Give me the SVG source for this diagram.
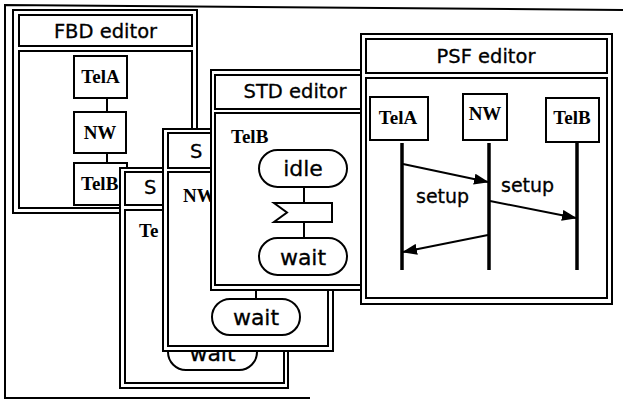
<svg xmlns="http://www.w3.org/2000/svg" width="623" height="400" viewBox="0 0 623 400">
<style>
.bg{fill:#fff}
.frame{fill:#fff;stroke:#000;stroke-width:2}
.box{fill:#fff;stroke:#000;stroke-width:2}
.title{font-family:"DejaVu Sans",sans-serif;font-size:19.5px;fill:#000;stroke:#000;stroke-width:0.3;text-anchor:middle}
.ser{font-family:"Liberation Serif",serif;font-size:19px;font-weight:bold;fill:#000}
.serc{font-family:"Liberation Serif",serif;font-size:19px;font-weight:bold;fill:#000;text-anchor:middle}
.state{font-family:"DejaVu Sans",sans-serif;font-size:22px;fill:#000;stroke:#000;stroke-width:0.3;text-anchor:middle}
.lbl{font-family:"DejaVu Sans",sans-serif;font-size:19px;fill:#000;stroke:#000;stroke-width:0.3}
.ln{stroke:#000;stroke-width:2;fill:none}
.life{stroke:#000;stroke-width:3.5;fill:none}
</style>
<defs>
<marker id="ah" markerUnits="userSpaceOnUse" markerWidth="15" markerHeight="11" refX="14" refY="5.5" orient="auto">
<path d="M0,0 L15,5.5 L0,11 z" fill="#000"/>
</marker>
</defs>
<rect class="bg" x="0" y="0" width="623" height="400"/>
<g id="outer-frame">
<path class="ln" d="M623,10 L5,5 L5,398 L310,398"/>
</g>
<g id="fbd-editor">
<rect class="frame" x="13" y="10" width="184" height="203"/>
<rect class="box" x="19" y="15" width="173" height="31"/>
<text class="title" x="105.5" y="38">FBD editor</text>
<rect class="box" x="19" y="51" width="173" height="157"/>
<g id="fbd-tela"><rect class="box" x="74" y="56" width="53" height="42"/><text class="serc" x="100.5" y="83">TelA</text></g>
<g id="fbd-nw"><rect class="box" x="74" y="112" width="52" height="41"/><text class="serc" x="100" y="139">NW</text></g>
<g id="fbd-telb"><rect class="box" x="74" y="163" width="53" height="42"/><text class="ser" x="81" y="190">TelB</text></g>
</g>
<g id="std-back">
<rect class="frame" x="120" y="168" width="168" height="220"/>
<rect class="box" x="125" y="172" width="159" height="33"/>
<text class="title" x="144" y="194" style="text-anchor:start">S</text>
<rect class="box" x="125" y="210" width="159" height="173"/>
<text class="ser" x="139" y="237">Te</text>
<rect class="box" x="168" y="334" width="89" height="36" rx="18"/>
<text class="state" x="212.5" y="361">wait</text>
</g>
<g id="std-mid">
<rect class="frame" x="163" y="129" width="170" height="222"/>
<rect class="box" x="168" y="133" width="160" height="35"/>
<text class="title" x="190" y="158" style="text-anchor:start">S</text>
<rect class="box" x="168" y="172" width="160" height="174"/>
<text class="ser" x="183" y="202">NW</text>
<rect class="box" x="212" y="299" width="88" height="36" rx="18"/>
<text class="state" x="256" y="325">wait</text>
</g>
<g id="std-editor">
<rect class="frame" x="211" y="70" width="161" height="220"/>
<rect class="box" x="215" y="75" width="153" height="34"/>
<text class="title" x="295" y="98">STD editor</text>
<rect class="box" x="215" y="113" width="153" height="172"/>
<text class="ser" x="231" y="143">TelB</text>
<g id="std-idle"><rect class="box" x="259" y="150" width="88" height="37" rx="18.5"/><text class="state" x="303" y="176">idle</text></g>
<g id="std-input"><polygon class="box" points="274,203 332,203 332,222 274,222 287,212.5"/></g>
<g id="std-wait"><rect class="box" x="259" y="238" width="88" height="37" rx="18.5"/><text class="state" x="303" y="265">wait</text></g>
</g>
<g id="psf-editor">
<rect class="frame" x="361" y="34" width="251" height="270"/>
<rect class="box" x="366" y="39" width="241" height="34"/>
<text class="title" x="486" y="63">PSF editor</text>
<rect class="box" x="366" y="78" width="241" height="220"/>
<g id="psf-tela"><rect class="box" x="370" y="97" width="58" height="43"/><text class="serc" x="398" y="124">TelA</text></g>
<g id="psf-nw"><rect class="box" x="463" y="94" width="44" height="46"/><text class="serc" x="485" y="120">NW</text></g>
<g id="psf-telb"><rect class="box" x="546" y="98" width="53" height="44"/><text class="serc" x="572" y="124">TelB</text></g>
<line class="life" x1="402" y1="143" x2="402" y2="270"/>
<line class="life" x1="489" y1="143" x2="489" y2="270"/>
<line class="life" x1="577" y1="143" x2="577" y2="270"/>
<text class="lbl" x="416" y="203">setup</text>
<text class="lbl" x="501" y="192">setup</text>
</g>
<g id="connectors">
<line class="ln" x1="107" y1="98" x2="107" y2="112"/>
<line class="ln" x1="107" y1="153" x2="107" y2="163"/>
<line class="ln" x1="256" y1="290" x2="256" y2="299"/>
<line class="ln" x1="304" y1="187" x2="304" y2="203"/>
<line class="ln" x1="304" y1="222" x2="304" y2="238"/>
<line class="ln" x1="403" y1="164" x2="488" y2="182" marker-end="url(#ah)"/>
<line class="ln" x1="490" y1="201" x2="576" y2="218" marker-end="url(#ah)"/>
<line class="ln" x1="488" y1="235" x2="403" y2="252" marker-end="url(#ah)"/>
</g>
</svg>
